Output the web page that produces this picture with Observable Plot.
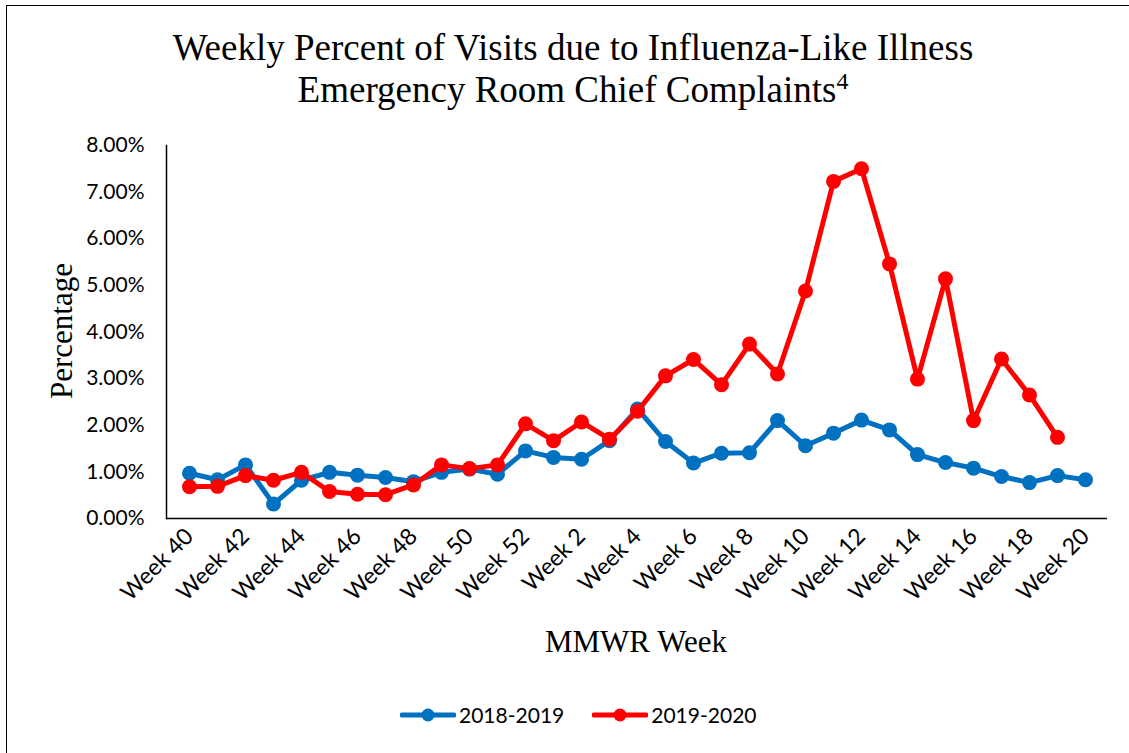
<!DOCTYPE html>
<html>
<head>
<meta charset="utf-8">
<script src="https://cdn.jsdelivr.net/npm/d3@7"></script>
<script src="https://cdn.jsdelivr.net/npm/@observablehq/plot@0.6"></script>
<style>
  html, body { margin: 0; padding: 0; background: #fff; }
  #page { position: relative; width: 1129px; height: 753px; overflow: hidden; background: #fff; }
  #border { position: absolute; left: 6px; top: 5px; right: -5px; bottom: -5px; border-left: 1.5px solid #000; border-top: 1.5px solid #000; }
  #title { position: absolute; left: 0; top: 27px; width: 1146px; text-align: center; font-family: "Liberation Serif", "Times New Roman", serif; font-size: 37px; line-height: 42px; color: #000; }
  #title sup { font-size: 24px; line-height: 0; vertical-align: 13px; }
  .axtitle { position: absolute; font-family: "Liberation Serif", "Times New Roman", serif; font-size: 31px; color: #000; white-space: nowrap; }
  #ylab { left: 62px; top: 331px; transform: translate(-50%, -50%) rotate(-90deg); }
  #xlab { left: 636px; top: 642px; transform: translate(-50%, -50%); }
  #chart { position: absolute; left: 0; top: 120px; }
  #legend { position: absolute; left: 400px; top: 702px; display: flex; align-items: center; font-family: Lato, "Noto Sans", sans-serif; font-size: 21px; color: #000; }
  #legend .item { display: flex; align-items: center; margin-right: 28px; }
  #legend svg { margin-right: 3px; }
</style>
</head>
<body>
<div id="page">
  <div id="border"></div>
  <div id="title">Weekly Percent of Visits due to Influenza-Like Illness<br>Emergency Room Chief Complaints<sup>4</sup></div>
  <div id="ylab" class="axtitle">Percentage</div>
  <div id="chart"></div>
  <div id="xlab" class="axtitle">MMWR Week</div>
  <div id="legend"></div>
</div>
<script>
// Categories: MMWR weeks 40–52, then 1–20
const weeks = [
  "Week 40","Week 41","Week 42","Week 43","Week 44","Week 45","Week 46","Week 47","Week 48","Week 49",
  "Week 50","Week 51","Week 52","Week 1","Week 2","Week 3","Week 4","Week 5","Week 6","Week 7",
  "Week 8","Week 9","Week 10","Week 11","Week 12","Week 13","Week 14","Week 15","Week 16","Week 17",
  "Week 18","Week 19","Week 20"
];
const seriesNames = ["2018-2019", "2019-2020"];
const seriesColors = ["#0070C0", "#FF0000"];
// Percent of visits (values in %)
const values2018 = [
  0.97, 0.83, 1.15, 0.31, 0.82, 0.99, 0.93, 0.88, 0.79, 0.99,
  1.06, 0.95, 1.45, 1.31, 1.27, 1.67, 2.35, 1.65, 1.19, 1.40,
  1.41, 2.10, 1.56, 1.83, 2.11, 1.90, 1.37, 1.20, 1.08, 0.90,
  0.77, 0.92, 0.83
];
const values2019 = [
  0.68, 0.69, 0.92, 0.82, 0.99, 0.58, 0.52, 0.51, 0.72, 1.15,
  1.07, 1.15, 2.03, 1.67, 2.07, 1.70, 2.30, 3.06, 3.41, 2.87,
  3.74, 3.10, 4.88, 7.23, 7.50, 5.46, 2.99, 5.14, 2.10, 3.42,
  2.65, 1.74, null
];
const yTicks = [0, 1, 2, 3, 4, 5, 6, 7, 8];
const xTickLabels = weeks.filter((d, i) => i % 2 === 0);

const rows = [];
[values2018, values2019].forEach((vals, s) => {
  vals.forEach((v, i) => rows.push({week: weeks[i], value: v, series: seriesNames[s]}));
});
const ofSeries = name => rows.filter(r => r.series === name);

const marks = [
  Plot.ruleY([0], {stroke: "#000", strokeWidth: 1.5}),
  Plot.frame({anchor: "left", stroke: "#000", strokeWidth: 1.5}),
  Plot.axisY({ticks: yTicks, tickSize: 0, tickPadding: 22, tickFormat: d => d.toFixed(2) + "%", label: null, fontSize: 21}),
  Plot.axisX({ticks: xTickLabels, tickSize: 0, tickPadding: 14, tickRotate: -45, label: null, fontSize: 23})
];
seriesNames.forEach((name, s) => {
  marks.push(Plot.line(ofSeries(name), {x: "week", y: "value", stroke: seriesColors[s], strokeWidth: 5, strokeLinejoin: "round", strokeLinecap: "round"}));
  marks.push(Plot.dot(ofSeries(name).filter(r => r.value != null), {x: "week", y: "value", fill: seriesColors[s], r: 7.5}));
});

const chart = Plot.plot({
  width: 1129,
  height: 540,
  marginLeft: 166,
  marginRight: 22,
  marginTop: 25,
  marginBottom: 142,
  style: {fontFamily: "Lato, 'Noto Sans', sans-serif", fontSize: "20px", color: "#000", background: "transparent", overflow: "visible"},
  x: {type: "point", domain: weeks, padding: 0.5},
  y: {domain: [0, 8]},
  marks
});
document.getElementById("chart").appendChild(chart);

// Legend
const legend = document.getElementById("legend");
seriesNames.forEach((name, s) => {
  const item = document.createElement("div");
  item.className = "item";
  item.innerHTML = `<svg width="56" height="16"><line x1="2" y1="8" x2="54" y2="8" stroke="${seriesColors[s]}" stroke-width="5" stroke-linecap="round"/><circle cx="28" cy="8" r="6.5" fill="${seriesColors[s]}"/></svg><span>${name}</span>`;
  legend.appendChild(item);
});
</script>
</body>
</html>
